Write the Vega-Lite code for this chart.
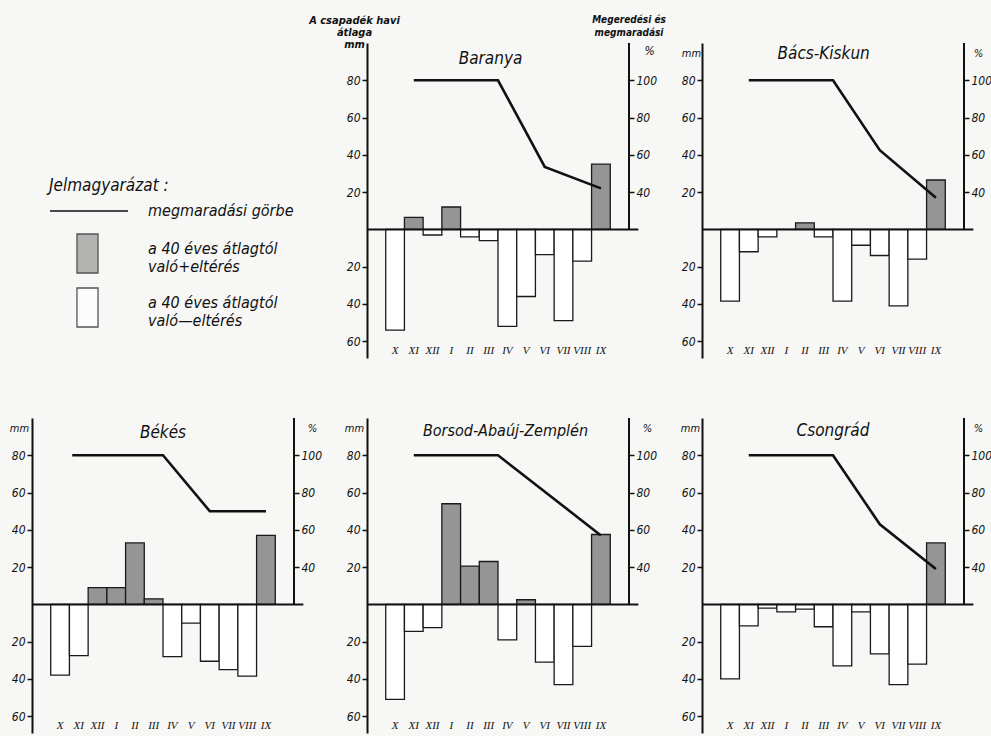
{
  "$schema": "https://vega.github.io/schema/vega-lite/v6.json",
  "background": "#f7f7f5",
  "padding": {"left": 9, "top": 14, "right": 3, "bottom": 3},
  "datasets": {
    "bars": [
      {"r":"Ba","m":"X","i":0,"v":-54},{"r":"Ba","m":"XI","i":1,"v":6.5},{"r":"Ba","m":"XII","i":2,"v":-3},{"r":"Ba","m":"I","i":3,"v":12},{"r":"Ba","m":"II","i":4,"v":-4},{"r":"Ba","m":"III","i":5,"v":-6},{"r":"Ba","m":"IV","i":6,"v":-52},{"r":"Ba","m":"V","i":7,"v":-36},{"r":"Ba","m":"VI","i":8,"v":-13.5},{"r":"Ba","m":"VII","i":9,"v":-49},{"r":"Ba","m":"VIII","i":10,"v":-17},{"r":"Ba","m":"IX","i":11,"v":35},
      {"r":"BK","m":"X","i":0,"v":-38.5},{"r":"BK","m":"XI","i":1,"v":-12},{"r":"BK","m":"XII","i":2,"v":-4},{"r":"BK","m":"I","i":3,"v":0},{"r":"BK","m":"II","i":4,"v":3.5},{"r":"BK","m":"III","i":5,"v":-4},{"r":"BK","m":"IV","i":6,"v":-38.5},{"r":"BK","m":"V","i":7,"v":-8.5},{"r":"BK","m":"VI","i":8,"v":-14},{"r":"BK","m":"VII","i":9,"v":-41},{"r":"BK","m":"VIII","i":10,"v":-16},{"r":"BK","m":"IX","i":11,"v":26.5},
      {"r":"Be","m":"X","i":0,"v":-38},{"r":"Be","m":"XI","i":1,"v":-27.5},{"r":"Be","m":"XII","i":2,"v":9},{"r":"Be","m":"I","i":3,"v":9},{"r":"Be","m":"II","i":4,"v":33},{"r":"Be","m":"III","i":5,"v":3},{"r":"Be","m":"IV","i":6,"v":-28},{"r":"Be","m":"V","i":7,"v":-10},{"r":"Be","m":"VI","i":8,"v":-30.5},{"r":"Be","m":"VII","i":9,"v":-35},{"r":"Be","m":"VIII","i":10,"v":-38.5},{"r":"Be","m":"IX","i":11,"v":37},
      {"r":"BAZ","m":"X","i":0,"v":-51},{"r":"BAZ","m":"XI","i":1,"v":-14.5},{"r":"BAZ","m":"XII","i":2,"v":-12.5},{"r":"BAZ","m":"I","i":3,"v":54},{"r":"BAZ","m":"II","i":4,"v":20.5},{"r":"BAZ","m":"III","i":5,"v":23},{"r":"BAZ","m":"IV","i":6,"v":-19},{"r":"BAZ","m":"V","i":7,"v":2.5},{"r":"BAZ","m":"VI","i":8,"v":-31},{"r":"BAZ","m":"VII","i":9,"v":-43},{"r":"BAZ","m":"VIII","i":10,"v":-22.5},{"r":"BAZ","m":"IX","i":11,"v":37.5},
      {"r":"Cs","m":"X","i":0,"v":-40},{"r":"Cs","m":"XI","i":1,"v":-11.5},{"r":"Cs","m":"XII","i":2,"v":-2},{"r":"Cs","m":"I","i":3,"v":-4},{"r":"Cs","m":"II","i":4,"v":-2.5},{"r":"Cs","m":"III","i":5,"v":-12},{"r":"Cs","m":"IV","i":6,"v":-33},{"r":"Cs","m":"V","i":7,"v":-4},{"r":"Cs","m":"VI","i":8,"v":-26.5},{"r":"Cs","m":"VII","i":9,"v":-43},{"r":"Cs","m":"VIII","i":10,"v":-32},{"r":"Cs","m":"IX","i":11,"v":33}
    ],
    "lines": [
      {"r":"Ba","t":1,"p":100},{"r":"Ba","t":5.5,"p":100},{"r":"Ba","t":8,"p":53.5},{"r":"Ba","t":11,"p":42},
      {"r":"BK","t":1,"p":100},{"r":"BK","t":5.5,"p":100},{"r":"BK","t":8,"p":62.5},{"r":"BK","t":11,"p":37},
      {"r":"Be","t":0.65,"p":100},{"r":"Be","t":5.5,"p":100},{"r":"Be","t":8,"p":70},{"r":"Be","t":11,"p":70},
      {"r":"BAZ","t":1,"p":100},{"r":"BAZ","t":5.5,"p":100},{"r":"BAZ","t":11,"p":57},
      {"r":"Cs","t":1,"p":100},{"r":"Cs","t":5.5,"p":100},{"r":"Cs","t":8,"p":63},{"r":"Cs","t":11,"p":39}
    ]
  },
  "columns": 3,
  "spacing": {"row": 60, "column": 73},
  "bounds": "flush",
  "concat": [
    {
      "width": 262, "height": 315,
      "data": {"values": []},
      "layer": [
        {
          "mark": {"type": "rule", "strokeWidth": 1.6, "color": "#111"},
          "encoding": {
            "x": {"datum": 0, "type": "quantitative", "axis": null},
            "stroke": {"datum": "megmaradási görbe", "type": "nominal", "scale": {"range": ["#111"]},
              "legend": {"orient": "none", "legendX": 17, "legendY": 135, "padding": 0, "clipHeight": 16,
                "title": "Jelmagyarázat :", "titleFont": "Liberation Sans Narrow, DejaVu Sans Condensed, sans-serif", "titleFontSize": 17, "titleFontStyle": "italic", "titleFontWeight": "normal", "titleColor": "#111", "titlePadding": 8,
                "symbolType": "stroke", "symbolSize": 6084, "symbolStrokeWidth": 1.6, "symbolStrokeColor": "#111",
                "labelOffset": 19, "labelFont": "Liberation Sans Narrow, DejaVu Sans Condensed, sans-serif", "labelFontSize": 16, "labelFontStyle": "italic", "labelColor": "#111", "labelLimit": 300}}
          }
        },
        {
          "mark": {"type": "square", "stroke": "#111", "strokeWidth": 1.3, "filled": true},
          "encoding": {
            "x": {"datum": 0, "type": "quantitative", "axis": null},
            "fill": {"field": "s", "type": "nominal", "scale": {"domain": ["+", "-"], "range": ["#959595", "#ffffff"]},
              "legend": {"orient": "none", "legendX": 35, "legendY": 190, "padding": 0, "title": null,
                "symbolType": "M-0.54,-1H0.54V1H-0.54Z", "symbolSize": 1521, "symbolStrokeColor": "#111", "symbolStrokeWidth": 1.3,
                "labelOffset": 40, "rowPadding": 9, "labelBaseline": "alphabetic",
                "labelExpr": "datum.label == '+' ? ['a 40 éves átlagtól', 'való+eltérés'] : ['a 40 éves átlagtól', 'való—eltérés']",
                "labelFont": "Liberation Sans Narrow, DejaVu Sans Condensed, sans-serif", "labelFontSize": 16, "labelFontStyle": "italic", "labelColor": "#111", "labelLimit": 300}}
          }
        }
      ]
    },
    {
      "width": 262, "height": 315,
      "layer": [
        {"data": {"name": "bars"}, "transform": [{"filter": "datum.r == 'Ba'"}],
         "mark": {"type": "bar", "width": 18.7, "stroke": "#1a1a1a", "strokeWidth": 1.3},
         "encoding": {
           "x": {"field": "i", "type": "quantitative", "scale": {"domain": [-1.5, 12.5], "nice": false, "padding": 0}, "axis": null},
           "y": {"field": "v", "type": "quantitative", "scale": {"domain": [-69, 100], "nice": false},
             "axis": {"values": [-60, -40, -20, 20, 40, 60, 80], "labelExpr": "abs(datum.value)", "title": ["A csapadék havi", "átlaga", "mm"], "titleX": -13, "titleY": -18, "titleFontWeight": "bold", "titleFontSize": 11, "titleLineHeight": 12}},
           "fill": {"condition": {"test": "datum.v > 0", "value": "#959595"}, "value": "#ffffff"}
         }},
        {"data": {"name": "bars"}, "transform": [{"filter": "datum.r == 'Ba'"}],
         "mark": {"type": "text", "font": "Liberation Serif, DejaVu Serif, serif", "fontSize": 11, "fontStyle": "italic", "color": "#111"},
         "encoding": {
           "x": {"field": "i", "type": "quantitative", "scale": {"domain": [-1.5, 12.5], "nice": false}, "axis": null},
           "y": {"datum": -65, "scale": {"domain": [-69, 100], "nice": false}, "axis": null},
           "text": {"field": "m"}
         }},
        {"data": {"values": [{}]}, "mark": {"type": "rule", "strokeWidth": 2, "color": "#111"},
         "encoding": {"x": {"datum": -1.5, "scale": {"domain": [-1.5, 12.5], "nice": false}, "axis": null}, "x2": {"datum": 13}, "y": {"datum": 0, "scale": {"domain": [-69, 100], "nice": false}, "axis": null}}},
        {"data": {"values": [{}]}, "mark": {"type": "rule", "strokeWidth": 2, "color": "#111"},
         "encoding": {"x": {"datum": 12.5, "scale": {"domain": [-1.5, 12.5], "nice": false}, "axis": null}, "y": {"datum": 0, "scale": {"domain": [-69, 100], "nice": false}, "axis": null}, "y2": {"datum": 100}}},
        {"data": {"values": [{}]}, "mark": {"type": "text", "text": "Baranya", "font": "Liberation Sans Narrow, DejaVu Sans Condensed, sans-serif", "fontSize": 17, "fontStyle": "italic", "color": "#111"},
         "encoding": {"x": {"datum": 5.1, "scale": {"domain": [-1.5, 12.5], "nice": false}, "axis": null}, "y": {"datum": 91.5, "scale": {"domain": [-69, 100], "nice": false}, "axis": null}}},
        {"data": {"values": [{}]}, "mark": {"type": "text", "text": "Megeredési és\nmegmaradási", "lineBreak": "\n", "lineHeight": 13, "font": "Liberation Sans Narrow, DejaVu Sans Condensed, sans-serif", "fontSize": 10, "fontStyle": "italic", "fontWeight": "bold", "color": "#111"},
         "encoding": {"x": {"datum": 12.5, "scale": {"domain": [-1.5, 12.5], "nice": false}, "axis": null}, "y": {"datum": 112.3, "scale": {"domain": [-69, 100], "nice": false}, "axis": null}}},
        {"data": {"name": "lines"}, "transform": [{"filter": "datum.r == 'Ba'"}],
         "mark": {"type": "line", "strokeWidth": 2.6, "color": "#111"},
         "encoding": {
           "x": {"field": "t", "type": "quantitative", "scale": {"domain": [-1.5, 12.5], "nice": false}, "axis": null},
           "y": {"field": "p", "type": "quantitative", "scale": {"domain": [-49, 120], "nice": false},
             "axis": {"orient": "right", "values": [40, 60, 80, 100], "title": "%", "titleX": 20, "titleY": 14, "titleFontSize": 12}}
         }}
      ],
      "resolve": {"scale": {"y": "independent"}}
    },
    {
      "width": 262, "height": 315,
      "layer": [
        {"data": {"name": "bars"}, "transform": [{"filter": "datum.r == 'BK'"}],
         "mark": {"type": "bar", "width": 18.7, "stroke": "#1a1a1a", "strokeWidth": 1.3},
         "encoding": {
           "x": {"field": "i", "type": "quantitative", "scale": {"domain": [-1.5, 12.5], "nice": false, "padding": 0}, "axis": null},
           "y": {"field": "v", "type": "quantitative", "scale": {"domain": [-69, 100], "nice": false},
             "axis": {"values": [-60, -40, -20, 20, 40, 60, 80], "labelExpr": "abs(datum.value)", "title": "mm", "titleX": -11, "titleY": 15}},
           "fill": {"condition": {"test": "datum.v > 0", "value": "#959595"}, "value": "#ffffff"}
         }},
        {"data": {"name": "bars"}, "transform": [{"filter": "datum.r == 'BK'"}],
         "mark": {"type": "text", "font": "Liberation Serif, DejaVu Serif, serif", "fontSize": 11, "fontStyle": "italic", "color": "#111"},
         "encoding": {
           "x": {"field": "i", "type": "quantitative", "scale": {"domain": [-1.5, 12.5], "nice": false}, "axis": null},
           "y": {"datum": -65, "scale": {"domain": [-69, 100], "nice": false}, "axis": null},
           "text": {"field": "m"}
         }},
        {"data": {"values": [{}]}, "mark": {"type": "rule", "strokeWidth": 2, "color": "#111"},
         "encoding": {"x": {"datum": -1.5, "scale": {"domain": [-1.5, 12.5], "nice": false}, "axis": null}, "x2": {"datum": 13}, "y": {"datum": 0, "scale": {"domain": [-69, 100], "nice": false}, "axis": null}}},
        {"data": {"values": [{}]}, "mark": {"type": "rule", "strokeWidth": 2, "color": "#111"},
         "encoding": {"x": {"datum": 12.5, "scale": {"domain": [-1.5, 12.5], "nice": false}, "axis": null}, "y": {"datum": 0, "scale": {"domain": [-69, 100], "nice": false}, "axis": null}, "y2": {"datum": 100}}},
        {"data": {"values": [{}]}, "mark": {"type": "text", "text": "Bács-Kiskun", "font": "Liberation Sans Narrow, DejaVu Sans Condensed, sans-serif", "fontSize": 17, "fontStyle": "italic", "color": "#111"},
         "encoding": {"x": {"datum": 5.0, "scale": {"domain": [-1.5, 12.5], "nice": false}, "axis": null}, "y": {"datum": 94, "scale": {"domain": [-69, 100], "nice": false}, "axis": null}}},
        {"data": {"name": "lines"}, "transform": [{"filter": "datum.r == 'BK'"}],
         "mark": {"type": "line", "strokeWidth": 2.6, "color": "#111"},
         "encoding": {
           "x": {"field": "t", "type": "quantitative", "scale": {"domain": [-1.5, 12.5], "nice": false}, "axis": null},
           "y": {"field": "p", "type": "quantitative", "scale": {"domain": [-49, 120], "nice": false},
             "axis": {"orient": "right", "values": [40, 60, 80, 100], "title": "%", "titleX": 14, "titleY": 15}}
         }}
      ],
      "resolve": {"scale": {"y": "independent"}}
    },
    {
      "width": 262, "height": 315,
      "layer": [
        {"data": {"name": "bars"}, "transform": [{"filter": "datum.r == 'Be'"}],
         "mark": {"type": "bar", "width": 18.7, "stroke": "#1a1a1a", "strokeWidth": 1.3},
         "encoding": {
           "x": {"field": "i", "type": "quantitative", "scale": {"domain": [-1.5, 12.5], "nice": false, "padding": 0}, "axis": null},
           "y": {"field": "v", "type": "quantitative", "scale": {"domain": [-69, 100], "nice": false},
             "axis": {"values": [-60, -40, -20, 20, 40, 60, 80], "labelExpr": "abs(datum.value)", "title": "mm", "titleX": -13, "titleY": 15}},
           "fill": {"condition": {"test": "datum.v > 0", "value": "#959595"}, "value": "#ffffff"}
         }},
        {"data": {"name": "bars"}, "transform": [{"filter": "datum.r == 'Be'"}],
         "mark": {"type": "text", "font": "Liberation Serif, DejaVu Serif, serif", "fontSize": 11, "fontStyle": "italic", "color": "#111"},
         "encoding": {
           "x": {"field": "i", "type": "quantitative", "scale": {"domain": [-1.5, 12.5], "nice": false}, "axis": null},
           "y": {"datum": -65.5, "scale": {"domain": [-69, 100], "nice": false}, "axis": null},
           "text": {"field": "m"}
         }},
        {"data": {"values": [{}]}, "mark": {"type": "rule", "strokeWidth": 2, "color": "#111"},
         "encoding": {"x": {"datum": -1.5, "scale": {"domain": [-1.5, 12.5], "nice": false}, "axis": null}, "x2": {"datum": 13}, "y": {"datum": 0, "scale": {"domain": [-69, 100], "nice": false}, "axis": null}}},
        {"data": {"values": [{}]}, "mark": {"type": "rule", "strokeWidth": 2, "color": "#111"},
         "encoding": {"x": {"datum": 12.5, "scale": {"domain": [-1.5, 12.5], "nice": false}, "axis": null}, "y": {"datum": 0, "scale": {"domain": [-69, 100], "nice": false}, "axis": null}, "y2": {"datum": 100}}},
        {"data": {"values": [{}]}, "mark": {"type": "text", "text": "Békés", "font": "Liberation Sans Narrow, DejaVu Sans Condensed, sans-serif", "fontSize": 17, "fontStyle": "italic", "color": "#111"},
         "encoding": {"x": {"datum": 5.5, "scale": {"domain": [-1.5, 12.5], "nice": false}, "axis": null}, "y": {"datum": 92, "scale": {"domain": [-69, 100], "nice": false}, "axis": null}}},
        {"data": {"name": "lines"}, "transform": [{"filter": "datum.r == 'Be'"}],
         "mark": {"type": "line", "strokeWidth": 2.6, "color": "#111"},
         "encoding": {
           "x": {"field": "t", "type": "quantitative", "scale": {"domain": [-1.5, 12.5], "nice": false}, "axis": null},
           "y": {"field": "p", "type": "quantitative", "scale": {"domain": [-49, 120], "nice": false},
             "axis": {"orient": "right", "values": [40, 60, 80, 100], "title": "%", "titleX": 18, "titleY": 15}}
         }}
      ],
      "resolve": {"scale": {"y": "independent"}}
    },
    {
      "width": 262, "height": 315,
      "layer": [
        {"data": {"name": "bars"}, "transform": [{"filter": "datum.r == 'BAZ'"}],
         "mark": {"type": "bar", "width": 18.7, "stroke": "#1a1a1a", "strokeWidth": 1.3},
         "encoding": {
           "x": {"field": "i", "type": "quantitative", "scale": {"domain": [-1.5, 12.5], "nice": false, "padding": 0}, "axis": null},
           "y": {"field": "v", "type": "quantitative", "scale": {"domain": [-69, 100], "nice": false},
             "axis": {"values": [-60, -40, -20, 20, 40, 60, 80], "labelExpr": "abs(datum.value)", "title": "mm", "titleX": -13, "titleY": 15}},
           "fill": {"condition": {"test": "datum.v > 0", "value": "#959595"}, "value": "#ffffff"}
         }},
        {"data": {"name": "bars"}, "transform": [{"filter": "datum.r == 'BAZ'"}],
         "mark": {"type": "text", "font": "Liberation Serif, DejaVu Serif, serif", "fontSize": 11, "fontStyle": "italic", "color": "#111"},
         "encoding": {
           "x": {"field": "i", "type": "quantitative", "scale": {"domain": [-1.5, 12.5], "nice": false}, "axis": null},
           "y": {"datum": -65.5, "scale": {"domain": [-69, 100], "nice": false}, "axis": null},
           "text": {"field": "m"}
         }},
        {"data": {"values": [{}]}, "mark": {"type": "rule", "strokeWidth": 2, "color": "#111"},
         "encoding": {"x": {"datum": -1.5, "scale": {"domain": [-1.5, 12.5], "nice": false}, "axis": null}, "x2": {"datum": 13}, "y": {"datum": 0, "scale": {"domain": [-69, 100], "nice": false}, "axis": null}}},
        {"data": {"values": [{}]}, "mark": {"type": "rule", "strokeWidth": 2, "color": "#111"},
         "encoding": {"x": {"datum": 12.5, "scale": {"domain": [-1.5, 12.5], "nice": false}, "axis": null}, "y": {"datum": 0, "scale": {"domain": [-69, 100], "nice": false}, "axis": null}, "y2": {"datum": 100}}},
        {"data": {"values": [{}]}, "mark": {"type": "text", "text": "Borsod-Abaúj-Zemplén", "font": "Liberation Sans Narrow, DejaVu Sans Condensed, sans-serif", "fontSize": 16, "fontStyle": "italic", "color": "#111"},
         "encoding": {"x": {"datum": 5.9, "scale": {"domain": [-1.5, 12.5], "nice": false}, "axis": null}, "y": {"datum": 93, "scale": {"domain": [-69, 100], "nice": false}, "axis": null}}},
        {"data": {"name": "lines"}, "transform": [{"filter": "datum.r == 'BAZ'"}],
         "mark": {"type": "line", "strokeWidth": 2.6, "color": "#111"},
         "encoding": {
           "x": {"field": "t", "type": "quantitative", "scale": {"domain": [-1.5, 12.5], "nice": false}, "axis": null},
           "y": {"field": "p", "type": "quantitative", "scale": {"domain": [-49, 120], "nice": false},
             "axis": {"orient": "right", "values": [40, 60, 80, 100], "title": "%", "titleX": 18, "titleY": 15}}
         }}
      ],
      "resolve": {"scale": {"y": "independent"}}
    },
    {
      "width": 262, "height": 315,
      "layer": [
        {"data": {"name": "bars"}, "transform": [{"filter": "datum.r == 'Cs'"}],
         "mark": {"type": "bar", "width": 18.7, "stroke": "#1a1a1a", "strokeWidth": 1.3},
         "encoding": {
           "x": {"field": "i", "type": "quantitative", "scale": {"domain": [-1.5, 12.5], "nice": false, "padding": 0}, "axis": null},
           "y": {"field": "v", "type": "quantitative", "scale": {"domain": [-69, 100], "nice": false},
             "axis": {"values": [-60, -40, -20, 20, 40, 60, 80], "labelExpr": "abs(datum.value)", "title": "mm", "titleX": -12, "titleY": 15}},
           "fill": {"condition": {"test": "datum.v > 0", "value": "#959595"}, "value": "#ffffff"}
         }},
        {"data": {"name": "bars"}, "transform": [{"filter": "datum.r == 'Cs'"}],
         "mark": {"type": "text", "font": "Liberation Serif, DejaVu Serif, serif", "fontSize": 11, "fontStyle": "italic", "color": "#111"},
         "encoding": {
           "x": {"field": "i", "type": "quantitative", "scale": {"domain": [-1.5, 12.5], "nice": false}, "axis": null},
           "y": {"datum": -65.5, "scale": {"domain": [-69, 100], "nice": false}, "axis": null},
           "text": {"field": "m"}
         }},
        {"data": {"values": [{}]}, "mark": {"type": "rule", "strokeWidth": 2, "color": "#111"},
         "encoding": {"x": {"datum": -1.5, "scale": {"domain": [-1.5, 12.5], "nice": false}, "axis": null}, "x2": {"datum": 13}, "y": {"datum": 0, "scale": {"domain": [-69, 100], "nice": false}, "axis": null}}},
        {"data": {"values": [{}]}, "mark": {"type": "rule", "strokeWidth": 2, "color": "#111"},
         "encoding": {"x": {"datum": 12.5, "scale": {"domain": [-1.5, 12.5], "nice": false}, "axis": null}, "y": {"datum": 0, "scale": {"domain": [-69, 100], "nice": false}, "axis": null}, "y2": {"datum": 100}}},
        {"data": {"values": [{}]}, "mark": {"type": "text", "text": "Csongrád", "font": "Liberation Sans Narrow, DejaVu Sans Condensed, sans-serif", "fontSize": 17, "fontStyle": "italic", "color": "#111"},
         "encoding": {"x": {"datum": 5.5, "scale": {"domain": [-1.5, 12.5], "nice": false}, "axis": null}, "y": {"datum": 93, "scale": {"domain": [-69, 100], "nice": false}, "axis": null}}},
        {"data": {"name": "lines"}, "transform": [{"filter": "datum.r == 'Cs'"}],
         "mark": {"type": "line", "strokeWidth": 2.6, "color": "#111"},
         "encoding": {
           "x": {"field": "t", "type": "quantitative", "scale": {"domain": [-1.5, 12.5], "nice": false}, "axis": null},
           "y": {"field": "p", "type": "quantitative", "scale": {"domain": [-49, 120], "nice": false},
             "axis": {"orient": "right", "values": [40, 60, 80, 100], "title": "%", "titleX": 14, "titleY": 15}}
         }}
      ],
      "resolve": {"scale": {"y": "independent"}}
    }
  ],
  "resolve": {"scale": {"fill": "independent", "stroke": "independent"}},
  "config": {
    "view": {"stroke": null},
    "scale": {"continuousPadding": 0},
    "axis": {
      "grid": false,
      "labelFont": "Liberation Sans Narrow, DejaVu Sans Condensed, sans-serif", "labelFontSize": 12, "labelFontStyle": "italic", "labelColor": "#111",
      "tickColor": "#111", "tickWidth": 1.5, "tickSize": 5, "labelPadding": 2,
      "domainColor": "#111", "domainWidth": 2,
      "titleFont": "Liberation Sans Narrow, DejaVu Sans Condensed, sans-serif", "titleFontStyle": "italic", "titleFontWeight": "normal", "titleColor": "#111", "titleFontSize": 11,
      "titleAngle": 0, "titleAlign": "center", "titleBaseline": "bottom"
    },
    "axisLeft": {"domain": true},
    "axisRight": {"domain": false}
  }
}
